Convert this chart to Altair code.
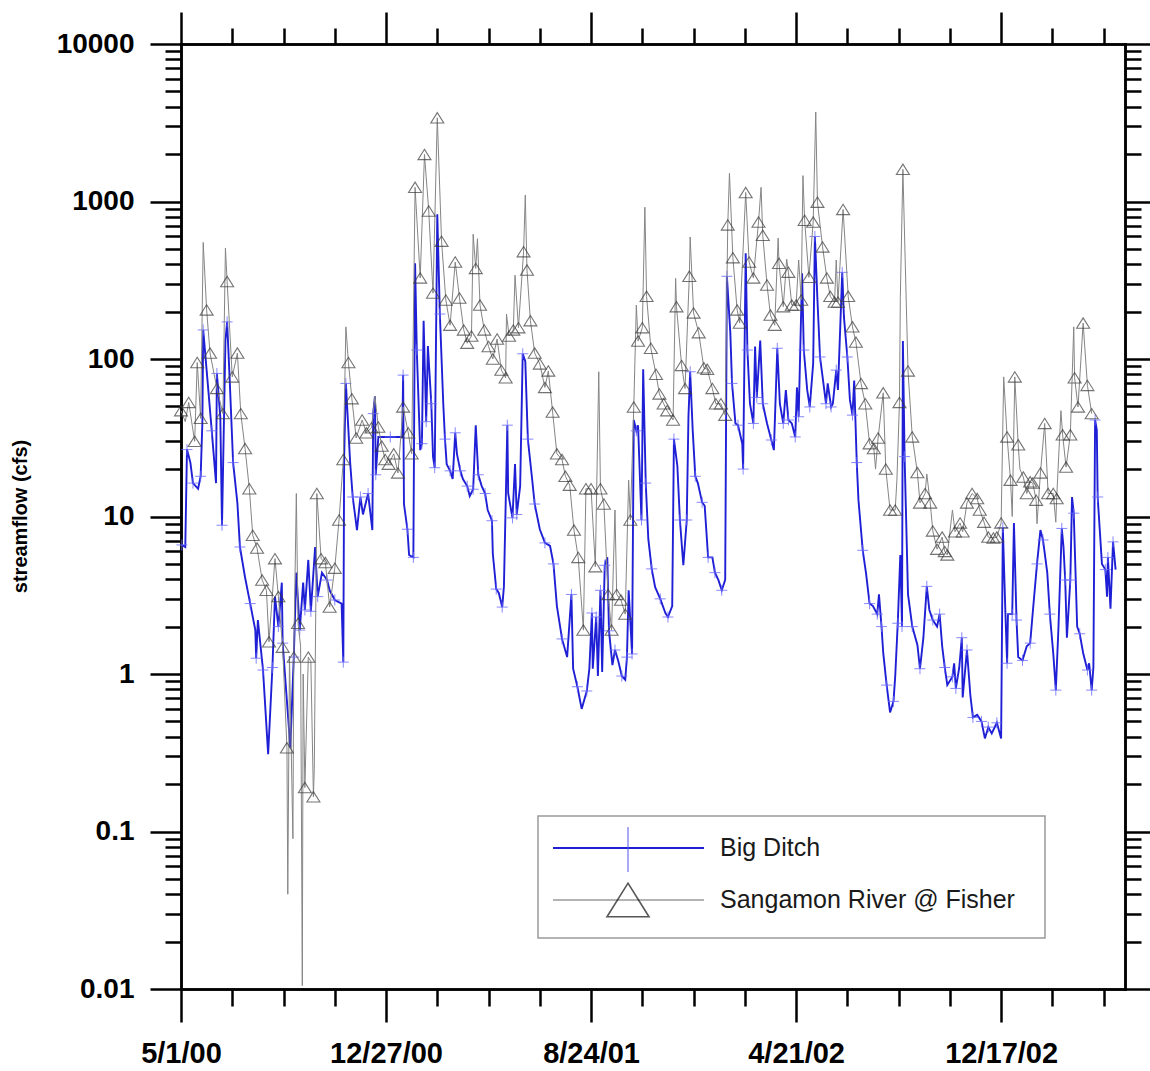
import altair as alt
import pandas as pd

# ---------------- data (days since 5/1/00, streamflow in cfs) ----------------
series_names = ["Big Ditch", "Sangamon River @ Fisher"]

x_domain_days = [0, 1105]
x_major_days = [0, 240, 480, 720, 960]
x_major_labels = ["5/1/00", "12/27/00", "8/24/01", "4/21/02", "12/17/02"]
x_minor_days = [60, 120, 180, 300, 360, 420, 540, 600, 660, 780, 840, 900, 1020, 1080]

y_domain = [0.01, 10000]
y_decades = [0.01, 0.1, 1, 10, 100, 1000, 10000]
y_minor = [round(k * 10.0 ** e, 6) for e in range(-2, 4) for k in range(2, 10)]

sangamon_day = [
    0, 5, 9, 16, 19, 23, 26, 30, 34, 42, 49, 52, 54, 60, 66, 70, 75, 80, 84, 89,
    95, 100, 103, 110, 114, 119, 124, 125, 127, 131, 132, 135, 137, 140, 142, 143, 145, 149, 152, 155,
    156, 159, 164, 169, 174, 180, 185, 190, 193, 196, 200, 205, 212, 217, 223, 227, 231, 235, 239, 243,
    249, 254, 260, 266, 270, 274, 280, 285, 290, 295, 300, 305, 310, 315, 321, 326, 331, 335, 340, 342,
    345, 347, 350, 355, 360, 365, 370, 375, 380, 381, 384, 389, 391, 395, 401, 403, 405, 409, 414, 420,
    426, 430, 435, 440, 446, 450, 455, 460, 465, 471, 474, 480, 485, 489, 491, 495, 500, 504, 508, 510,
    515, 520, 524, 526, 530, 533, 535, 540, 543, 545, 550, 556, 560, 565, 569, 576, 579, 580, 586, 590,
    595, 596, 600, 606, 612, 616, 622, 626, 632, 637, 640, 642, 646, 651, 654, 661, 665, 670, 676, 679,
    681, 686, 690, 695, 699, 700, 705, 709, 711, 715, 720, 723, 726, 728, 730, 735, 740, 743, 745, 751,
    756, 760, 765, 767, 769, 775, 781, 786, 790, 796, 801, 806, 811, 813, 816, 822, 825, 830, 836, 838,
    841, 842, 845, 851, 856, 862, 865, 871, 873, 877, 880, 885, 891, 894, 897, 903, 906, 912, 915, 920,
    926, 932, 935, 940, 945, 951, 955, 960, 963, 967, 971, 973, 976, 980, 982, 986, 990, 994, 997, 1001,
    1002, 1006, 1011, 1015, 1021, 1024, 1025, 1030, 1032, 1036, 1041, 1045, 1046, 1050, 1056, 1061, 1066,
]
sangamon_cfs = [
    47, 40, 53, 30, 95, 42, 550, 205, 109, 65, 45, 507, 310, 77, 109, 45, 27, 15, 7.6, 6.3,
    3.95, 3.4, 1.6, 5.4, 3.1, 1.48, 0.34, 0.04, 1.3, 0.09, 1.28, 14, 2.1, 1.5, 0.0105, 1.0, 0.19, 1.28, 1.2, 0.166,
    0.25, 14, 5.4, 5.1, 2.66, 4.7, 9.5, 23, 160, 95, 56, 31.5, 41, 34, 36.6, 58, 37, 28, 23, 21.5,
    25, 18.9, 49.6, 34, 25, 1230, 327, 1990, 870, 262, 3400, 560, 237, 164, 413, 244, 153, 126, 140, 620,
    376, 580, 220, 153, 120, 100, 134, 85, 76, 193, 140, 153, 340, 158, 480, 1100, 367, 175, 109, 93,
    66, 84, 46, 25, 23, 18, 15.8, 8.2, 5.5, 1.9, 15, 15, 4.8, 83, 15, 12, 3.2, 1.9, 11, 3.2,
    2.95, 2.4, 17, 9.5, 49.5, 220, 130, 158, 920, 250, 117, 80, 60, 52, 47, 41, 325, 215, 91, 65,
    335, 595, 196, 147, 88, 86, 65, 52, 52, 44, 710, 1510, 440, 205, 169, 1140, 413, 327, 740, 1230,
    610, 295, 190, 164, 585, 405, 215, 430, 356, 220, 220, 425, 237, 1460, 760, 330, 740, 3700, 990, 515,
    327, 250, 230, 425, 230, 890, 250, 160, 128, 70, 52, 29, 27, 20, 31.5, 61, 20, 11, 11, 17,
    53, 245, 1600, 84, 32, 19, 12.2, 14, 18.6, 12.2, 8.1, 6.2, 7.4, 6, 5.7, 11, 8, 9.1, 8, 12.2,
    14, 13, 11, 9.2, 7.4, 7.3, 7.4, 9.1, 77, 32, 17, 10, 77, 28.5, 20, 17.8, 14, 16.6, 16.3, 12.7,
    9, 18.9, 39, 14, 14, 9.2, 13, 47, 33, 20.6, 33, 160, 76, 49.6, 169, 68, 45,
]
sangamon_triangle = [
    1, 0, 1, 1, 1, 1, 0, 1, 1, 1, 1, 0, 1, 1, 1, 1, 1, 1, 1, 1,
    1, 1, 1, 1, 1, 1, 1, 0, 0, 0, 1, 0, 1, 0, 0, 0, 1, 1, 0, 1,
    0, 1, 1, 1, 1, 1, 1, 1, 0, 1, 1, 1, 1, 1, 1, 0, 1, 1, 1, 1,
    1, 1, 1, 1, 1, 1, 1, 1, 1, 1, 1, 1, 1, 1, 1, 1, 1, 1, 1, 0,
    1, 0, 1, 1, 1, 1, 1, 1, 1, 0, 1, 1, 0, 1, 1, 0, 1, 1, 1, 1,
    1, 1, 1, 1, 1, 1, 1, 1, 1, 1, 1, 1, 1, 0, 1, 1, 1, 1, 0, 1,
    1, 1, 0, 1, 1, 0, 1, 1, 0, 1, 1, 1, 1, 1, 1, 1, 0, 1, 1, 1,
    1, 0, 1, 1, 1, 1, 1, 1, 1, 1, 1, 0, 1, 1, 1, 1, 1, 1, 1, 0,
    1, 1, 1, 1, 0, 1, 1, 0, 1, 1, 1, 0, 1, 0, 1, 1, 1, 0, 1, 1,
    1, 1, 1, 0, 1, 1, 1, 1, 1, 1, 1, 1, 1, 0, 1, 1, 1, 1, 1, 0,
    1, 0, 1, 1, 1, 1, 1, 1, 0, 1, 1, 1, 1, 1, 1, 0, 1, 1, 1, 1,
    1, 1, 1, 1, 1, 1, 1, 1, 0, 1, 1, 0, 1, 1, 0, 1, 1, 1, 1, 1,
    0, 1, 1, 1, 1, 0, 1, 0, 1, 1, 1, 0, 1, 1, 1, 1, 1,
]

bigditch_day = [
    1, 5, 7, 11, 14, 20, 23, 25, 26, 30, 36, 41, 42, 46, 48, 52, 54, 57, 61, 66,
    69, 75, 81, 87, 88, 90, 96, 102, 107, 110, 114, 118, 119, 128, 132, 135, 139, 143, 145, 149,
    152, 157, 160, 165, 171, 174, 180, 188, 190, 191, 193, 198, 201, 206, 210, 213, 219, 224, 225, 227,
    228, 231, 245, 259, 260, 261, 265, 267, 272, 274, 276, 280, 282, 284, 287, 289, 293, 295, 297, 300,
    303, 307, 309, 311, 315, 318, 321, 323, 327, 330, 335, 338, 342, 345, 348, 352, 356, 359, 364, 365,
    369, 372, 376, 378, 382, 383, 388, 391, 393, 397, 400, 403, 406, 411, 414, 420, 426, 432, 436, 440,
    446, 452, 457, 459, 464, 469, 475, 478, 481, 482, 486, 488, 491, 493, 496, 499, 501, 505, 508, 512,
    516, 520, 522, 524, 528, 530, 533, 535, 539, 541, 544, 547, 551, 555, 561, 567, 570, 575, 577, 581,
    584, 588, 592, 594, 596, 599, 602, 605, 610, 613, 617, 622, 625, 629, 633, 637, 639, 643, 645, 649,
    652, 657, 658, 661, 663, 666, 670, 672, 674, 678, 681, 686, 691, 694, 698, 701, 705, 708, 711, 715,
    719, 721, 723, 727, 729, 733, 736, 740, 742, 745, 748, 752, 755, 757, 761, 763, 767, 769, 774, 776,
    780, 783, 786, 788, 791, 793, 798, 802, 806, 810, 815, 817, 820, 822, 826, 830, 834, 836, 839, 842,
    844, 845, 847, 851, 856, 862, 865, 869, 873, 876, 880, 885, 888, 891, 894, 897, 903, 905, 907, 911,
    914, 915, 920, 924, 927, 932, 937, 941, 945, 949, 955, 960, 962, 965, 967, 968, 973, 975, 978, 980,
    985, 990, 994, 997, 1002, 1006, 1009, 1014, 1017, 1021, 1024, 1027, 1031, 1033, 1035, 1037, 1041, 1043, 1045, 1049,
    1052, 1056, 1061, 1063, 1066, 1068, 1070, 1072, 1073, 1078, 1082, 1084, 1085, 1088, 1091, 1094,
]
bigditch_cfs = [
    6.6, 6.4, 26.6, 22, 16.3, 15, 18, 39, 153, 85, 35, 16.3, 81, 43, 8.8, 131, 172, 74, 22, 12.2,
    6.4, 4.1, 2.8, 1.9, 1.26, 2.2, 1.06, 0.31, 1.1, 3.1, 2.0, 3.8, 1.57, 0.34, 1.28, 4.4, 1.9, 3.8, 2.55, 5.3,
    2.5, 6.4, 3.1, 4.4, 3.95, 3.4, 2.95, 2.8, 1.19, 24, 70, 22, 13.3, 8.2, 13.3, 10.3, 14, 8.2, 45, 58,
    18.4, 32, 32, 32, 79, 12, 8.3, 5.7, 5.5, 405, 114, 26.4, 29, 175, 40, 121, 52, 24, 20.4, 830,
    193, 52, 31, 21.5, 19.5, 17.3, 34, 25, 19.5, 17.3, 15.6, 13.5, 14.9, 38, 18.4, 15.6, 14, 11, 9.4, 5.8,
    3.46, 3.27, 2.66, 3.6, 38, 14, 9.8, 21.5, 10.3, 15.6, 108, 97, 31, 17.3, 12, 8.3, 6.8, 6.5, 5.0, 2.7,
    1.67, 1.28, 3.2, 1.08, 0.83, 0.6, 0.78, 1.08, 2.44, 1.08, 2.3, 0.97, 3.4, 1.03, 4.9, 5.5, 1.88, 1.14, 1.42, 1.2,
    0.97, 0.92, 1.28, 3.4, 1.34, 41, 35, 38, 9.5, 86, 16.3, 7.2, 4.65, 3.56, 3.0, 2.44, 2.3, 2.7, 31, 21,
    9.5, 4.9, 9.5, 43, 83, 35, 18, 16.3, 12.3, 11.7, 5.5, 5.5, 4.4, 3.96, 3.4, 3.96, 335, 147, 70, 39,
    38, 29, 20, 470, 114, 52, 39, 120, 57, 131, 52, 39, 30.6, 26.4, 117, 52, 39, 63.6, 41, 39,
    32, 66, 43, 350, 114, 63.6, 49.6, 94, 600, 237, 103, 70, 52, 70, 49.6, 52, 85, 63.6, 355, 185,
    103, 55, 44, 73, 22, 12.7, 6.1, 4.3, 2.8, 2.7, 2.4, 3.2, 2.0, 1.36, 0.85, 0.57, 0.67, 0.96, 2.1, 5.7,
    2.0, 130, 24, 3.2, 2.0, 1.53, 1.08, 1.7, 3.6, 2.55, 2.2, 2.0, 2.4, 1.5, 1.1, 0.85, 0.96, 1.17, 0.81, 1.1,
    1.7, 0.71, 1.42, 0.73, 0.53, 0.55, 0.5, 0.39, 0.46, 0.42, 0.49, 0.39, 8.5, 2.45, 1.17, 2.4, 2.4, 9.1, 2.2, 1.28,
    1.22, 1.5, 1.57, 2.45, 5.0, 8.2, 7.1, 4.4, 2.4, 1.36, 0.79, 1.9, 8.4, 6.4, 3.95, 1.7, 3.95, 13.3, 10.5, 2.0,
    1.8, 1.36, 1.06, 1.17, 0.79, 1.1, 41, 35.4, 13.3, 5.0, 4.6, 3.1, 5.5, 2.6, 6.9, 4.6,
]

# ---------------- tables ----------------
gray_df = pd.DataFrame({"day": sangamon_day, "cfs": sangamon_cfs, "tri": sangamon_triangle})
tri_df = gray_df[gray_df["tri"] == 1]
blue_df = pd.DataFrame({"day": bigditch_day, "cfs": bigditch_cfs})
plus_df = blue_df.iloc[::2]

# ---------------- styling ----------------
FONT = "Liberation Sans"
BLUE = "#1f1fd6"
GRAY = "#858585"
TRI_PATH = "M0,-0.8L1,0.8L-1,0.8Z"
PLUS_PATH = "M-1,0L1,0M0,-1L0,1"

xscale = alt.Scale(domain=x_domain_days, nice=False, zero=False)
yscale = alt.Scale(type="log", domain=y_domain, nice=False)

x_label_expr = ""
for d, lab in zip(x_major_days, x_major_labels):
    x_label_expr += f"datum.value == {d} ? '{lab}' : "
x_label_expr += "''"

common = dict(grid=False, domainColor="black", domainWidth=2.5, domainCap="square",
              tickColor="black", tickWidth=2.5)

ax_bottom_major = alt.Axis(orient="bottom", values=x_major_days, tickSize=33,
                           labelExpr=x_label_expr, labelFont=FONT, labelFontSize=29,
                           labelFontWeight="bold", labelColor="black", labelPadding=17,
                           labelFlush=False, labelOverlap=False, **common)
ax_bottom_minor = alt.Axis(orient="bottom", values=x_minor_days, tickSize=17, labels=False, **common)
ax_top_major = alt.Axis(orient="top", values=x_major_days, tickSize=32, labels=False, **common)
ax_top_minor = alt.Axis(orient="top", values=x_minor_days, tickSize=16, labels=False, **common)

ax_left_major = alt.Axis(orient="left", values=y_decades, tickSize=31,
                         labelExpr="'' + datum.value", labelFont=FONT, labelFontSize=28,
                         labelFontWeight="bold", labelColor="black", labelPadding=16,
                         labelOverlap=False, labelBaseline="middle",
                         titleFont=FONT, titleFontSize=20, titleFontWeight="bold",
                         titleColor="black", titleAngle=270, titleAlign="center",
                         titleBaseline="middle", titleX=-161, titleY=472, **common)
ax_left_minor = alt.Axis(orient="left", values=y_minor, tickSize=16, labels=False, **common)
ax_right_major = alt.Axis(orient="right", values=y_decades, tickSize=31, labels=False, **common)
ax_right_minor = alt.Axis(orient="right", values=y_minor, tickSize=16, labels=False, **common)

# ---------------- data layers ----------------
blue_line = alt.Chart(blue_df).mark_line(color=BLUE, strokeWidth=1.9).encode(
    x=alt.X("day:Q", scale=xscale, axis=ax_bottom_minor, title=None),
    y=alt.Y("cfs:Q", scale=yscale, axis=ax_left_minor, title=None),
)
plus_pts = alt.Chart(plus_df).mark_point(shape=PLUS_PATH, size=121, filled=False,
                                         color="#6b6bff", strokeWidth=1, opacity=0.8).encode(
    x=alt.X("day:Q", scale=xscale, axis=ax_top_minor, title=None),
    y=alt.Y("cfs:Q", scale=yscale, axis=ax_right_minor, title=None),
)
gray_line = alt.Chart(gray_df).mark_line(color=GRAY, strokeWidth=1).encode(
    x=alt.X("day:Q", scale=xscale, axis=ax_bottom_major, title=None),
    y=alt.Y("cfs:Q", scale=yscale, axis=ax_left_major, title="streamflow (cfs)"),
)
tri_pts = alt.Chart(tri_df).mark_point(shape=TRI_PATH, size=169, filled=False,
                                       color="#3a3a3a", strokeWidth=1.1).encode(
    x=alt.X("day:Q", scale=xscale, axis=ax_top_major, title=None),
    y=alt.Y("cfs:Q", scale=yscale, axis=ax_right_major, title=None),
)

# ---------------- legend (decoration) ----------------
one = pd.DataFrame({"k": [0]})
leg_box = alt.Chart(one).mark_rect(fill="white", stroke="#9a9a9a", strokeWidth=1.5).encode(
    x=alt.value(357), x2=alt.value(864), y=alt.value(772), y2=alt.value(894))
leg_blue_line = alt.Chart(one).mark_rule(color=BLUE, strokeWidth=2).encode(
    x=alt.value(372), x2=alt.value(523), y=alt.value(804))
leg_blue_tick = alt.Chart(one).mark_rule(color="#5555ee", strokeWidth=1).encode(
    x=alt.value(447), y=alt.value(783), y2=alt.value(828))
leg_gray_line = alt.Chart(one).mark_rule(color="#9a9a9a", strokeWidth=1.5).encode(
    x=alt.value(372), x2=alt.value(523), y=alt.value(856))
leg_tri = alt.Chart(one).mark_point(shape=TRI_PATH, size=1764, filled=False,
                                    color="#111111", strokeWidth=1.6).encode(
    x=alt.value(447), y=alt.value(856))
leg_txt1 = alt.Chart(one).mark_text(align="left", baseline="middle", font=FONT,
                                    fontSize=25, color="#1a1a1a").encode(
    x=alt.value(539), y=alt.value(804), text=alt.value(series_names[0]))
leg_txt2 = alt.Chart(one).mark_text(align="left", baseline="middle", font=FONT,
                                    fontSize=25, color="#1a1a1a").encode(
    x=alt.value(539), y=alt.value(856), text=alt.value(series_names[1]))

chart = alt.layer(
    blue_line, plus_pts, gray_line, tri_pts,
    leg_box, leg_blue_line, leg_blue_tick, leg_gray_line, leg_tri, leg_txt1, leg_txt2,
).resolve_axis(x="independent", y="independent").properties(
    width=944, height=945,
    padding={"left": 181, "top": 44, "right": 25, "bottom": 82},
    autosize=alt.AutoSizeParams(type="none"),
).configure(background="white").configure_view(strokeOpacity=0)

chart.save("out.html", embed_options={"renderer": "svg", "actions": False})
